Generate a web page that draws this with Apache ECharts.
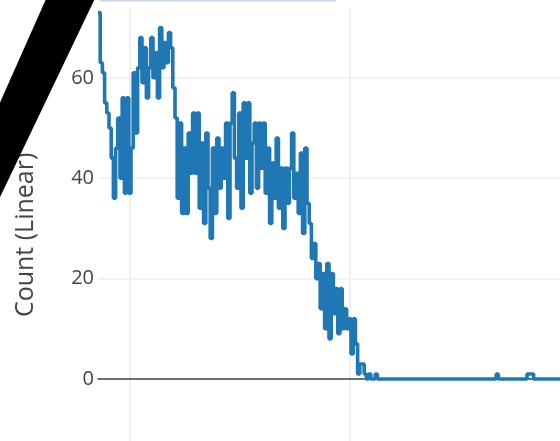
<!DOCTYPE html>
<html>
<head>
<meta charset="utf-8">
<script src="https://cdn.jsdelivr.net/npm/echarts@6/dist/echarts.min.js"></script>
<style>
  html, body { margin: 0; padding: 0; background: #fff; overflow: hidden; }
  /* chart is larger than the window so the plot can run past its edges */
  #chart { position: absolute; left: -100px; top: -40px; width: 760px; height: 521px; }
</style>
</head>
<body>
<div id="chart"></div>
<script>
// counts per bin (one bin = one x unit)
const countsRise = [
  73, 63, 61, 55, 53, 50, 44, 36, 46, 52,
  40, 56, 37, 56, 37, 46, 61, 49, 62, 68,
  59, 66, 56, 62, 68, 60, 65, 56, 70, 62,
  67, 63, 69, 66, 58
];
const countsPlateau = [
  52, 36, 51, 33, 46, 33, 49, 41, 53, 41,
  53, 34, 47, 31, 49, 38, 28, 46, 33, 48,
  38, 46, 40, 51, 32, 51, 57, 44, 38, 53,
  34, 55, 44, 55, 37, 47, 51, 38, 51, 42,
  51, 37, 46, 31, 43, 36, 48, 34, 42, 30,
  42, 35, 42, 49, 36, 41, 33, 45, 29, 46,
  35
];
const countsDrop = [
  31, 24, 27, 20, 23, 14, 21, 10, 23, 8,
  21, 13, 18, 9, 18, 10, 14, 10, 12, 5,
  12, 7, 1, 3, 3, 1, 0, 1, 0, 0,
  1
];
const countsTail = [
  0, 0, 0, 0, 0, 0, 0, 0, 0, 0,
  0, 0, 0, 0, 0, 0, 0, 0, 0, 0,
  0, 0, 0, 0, 0, 0, 0, 0, 0, 0,
  0, 0, 0, 0, 0, 0, 0, 0, 0, 0,
  0, 0, 0, 0, 0, 0, 0, 0, 0, 0,
  0, 0, 0, 0, 1, 0, 0, 0, 0, 0,
  0, 0, 0, 0, 0, 0, 0, 0, 1, 1,
  1, 0, 0, 0, 0, 0, 0, 0, 0, 0,
  0, 0, 0, 0, 0, 0, 0, 0, 0, 0,
  0, 0, 0, 0
];
const yTicks = [0, 20, 40, 60];
const gridXTicks = [100, 200];

const counts = countsRise.concat(countsPlateau, countsDrop, countsTail);
const points = counts.map((v, i) => [i, v]);

// offset of the window inside the chart canvas
const OX = 100;
const OY = 40;

const chart = echarts.init(document.getElementById("chart"));

const option = {
  animation: false,
  backgroundColor: "#fff",
  grid: [
    { left: 198, right: 78, top: 17.4, bottom: 1.6 },
    // only carries the vertical grid lines
    { left: 10, right: 90, top: 49, bottom: 40 }
  ],
  xAxis: [
    {
      gridIndex: 0,
      type: "value",
      min: 0,
      max: 220,
      axisLine: { onZero: true, lineStyle: { color: "#444", width: 1.5 } },
      axisTick: { show: false },
      axisLabel: { show: false },
      splitLine: { show: false }
    },
    {
      gridIndex: 1,
      type: "value",
      min: 0,
      max: 300,
      interval: gridXTicks[1] - gridXTicks[0],
      axisLine: { show: false },
      axisTick: { show: false },
      axisLabel: { show: false },
      splitLine: { show: true, lineStyle: { color: "#eeeeee", width: 1.7 } }
    }
  ],
  yAxis: [
    {
      gridIndex: 0,
      type: "value",
      min: -20,
      max: 80,
      interval: yTicks[1] - yTicks[0],
      name: "Count (Linear)",
      nameLocation: "middle",
      nameGap: 60,
      nameTextStyle: {
        fontSize: 25,
        color: "#444",
        fontFamily: "Open Sans",
        padding: [0, 13, 0, 0]
      },
      axisLine: { show: false },
      axisTick: { show: false },
      axisLabel: {
        fontSize: 20,
        color: "#444",
        fontFamily: "Open Sans",
        margin: 4,
        formatter: (v) => (yTicks.includes(v) ? String(v) : "")
      },
      splitLine: { show: true, lineStyle: { color: "#eeeeee", width: 1.7 } }
    },
    { gridIndex: 1, type: "value", show: false, min: 0, max: 1 }
  ],
  series: [
    {
      type: "line",
      xAxisIndex: 0,
      yAxisIndex: 0,
      step: "end",
      showSymbol: false,
      data: points,
      lineStyle: { color: "#1f77b4", width: 3.6 },
      itemStyle: { color: "#1f77b4" }
    }
  ],
  graphic: [
    {
      type: "polygon",
      shape: { points: [[50 + OX, OY - 10], [99 + OX, OY - 10], [-30 + OX, 260 + OY], [-30 + OX, 170 + OY]] },
      style: { fill: "#000" },
      z: 100
    },
    {
      type: "line",
      shape: { x1: 100 + OX, y1: 0.75 + OY, x2: 336 + OX, y2: 0.75 + OY },
      style: { stroke: "#cdd6e8", lineWidth: 1.5 },
      z: 100
    }
  ]
};

chart.setOption(option);
</script>
</body>
</html>
